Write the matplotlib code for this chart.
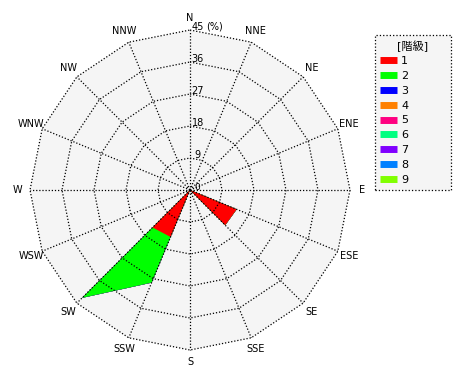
import numpy as np
import matplotlib
matplotlib.use('Agg')
import matplotlib.pyplot as plt
from matplotlib.lines import Line2D

plt.rcParams['font.family'] = ['DejaVu Sans', 'Noto Sans CJK JP']

directions = ['N', 'NNE', 'NE', 'ENE', 'E', 'ESE', 'SE', 'SSE',
              'S', 'SSW', 'SW', 'WSW', 'W', 'WNW', 'NW', 'NNW']
ring_values = [9, 18, 27, 36, 45]
class_names = ['1', '2', '3', '4', '5', '6', '7', '8', '9']
class_colors = ['#ff0000', '#00ff00', '#0000ff', '#ff8000', '#ff0080',
                '#00ff80', '#8000ff', '#0080ff', '#80ff00']

# frequency (%) per class and direction
c1 = [0, 0, 0, 0, 0, 14.2, 14.0, 0, 0, 14.3, 14.9, 0, 0, 0, 0, 0]
c2 = [0, 0, 0, 0, 0, 0, 0, 0, 0, 13.9, 28.0, 0, 0, 0, 0, 0]
c3 = [0] * 16
c4 = [0] * 16
c5 = [0] * 16
c6 = [0] * 16
c7 = [0] * 16
c8 = [0] * 16
c9 = [0] * 16
classes = [c1, c2, c3, c4, c5, c6, c7, c8, c9]

W, H = 470, 380
cx, cy = 190, 190          # centre in pixels (from top-left)
rmax = max(ring_values)
s = 160 / rmax             # pixels per %

fig = plt.figure(figsize=(W / 100, H / 100), dpi=100)
ax = fig.add_axes([0, 0, 1, 1])
ax.set_xlim(-cx / s, (W - cx) / s)
ax.set_ylim(-(H - cy) / s, cy / s)
ax.set_aspect('equal')
ax.axis('off')

theta = np.deg2rad(np.arange(16) * 22.5)
sx, sy = np.sin(theta), np.cos(theta)
tx, ty = np.append(sx, sx[0]), np.append(sy, sy[0])

# background and grid
ax.fill(tx * rmax, ty * rmax, color='#f5f5f5', lw=0, zorder=0)

cum = np.cumsum(np.array(classes, dtype=float), axis=0)
for i in range(len(classes) - 1, -1, -1):
    v = np.append(cum[i], cum[i][0])
    if v.max() > 0:
        ax.fill(tx * v, ty * v, color=class_colors[i], lw=0, zorder=1)

for r in ring_values:
    ax.plot(tx * r, ty * r, color='black', lw=0.9, ls=(0, (1, 1.5)), zorder=2)
for k in range(16):
    ax.plot([0, sx[k] * rmax], [0, sy[k] * rmax], color='black', lw=0.9,
            ls=(0, (1, 1.5)), zorder=2)

for k, d in enumerate(directions):
    ax.text(sx[k] * 48.4, sy[k] * 48.4, d, ha='center', va='center', fontsize=7)

ax.text(2.0, 0.7, '0', ha='center', va='center', fontsize=6.5)
for r in ring_values:
    ax.text(2.2, r + 0.9, str(r), ha='center', va='center', fontsize=7)
ax.text(7.0, rmax + 0.9, '(%)', ha='center', va='center', fontsize=7)

handles = [Line2D([], [], color=c, lw=5, solid_capstyle='butt') for c in class_colors]
leg = ax.legend(handles, class_names, title='[階級]', loc='upper left',
                bbox_to_anchor=(375 / W, 1 - 196 / H, 76 / W, 161 / H),
                bbox_transform=fig.transFigure, mode='expand',
                fontsize=8, title_fontsize=8, handlelength=1.5, handletextpad=0.4,
                labelspacing=0.43, borderpad=0.45, borderaxespad=0,
                fancybox=False, framealpha=1, edgecolor='black')
leg.get_frame().set_linestyle(':')
leg.get_frame().set_facecolor('#f5f5f5')
leg.get_frame().set_linewidth(0.9)

fig.savefig('out.png', dpi=100)
